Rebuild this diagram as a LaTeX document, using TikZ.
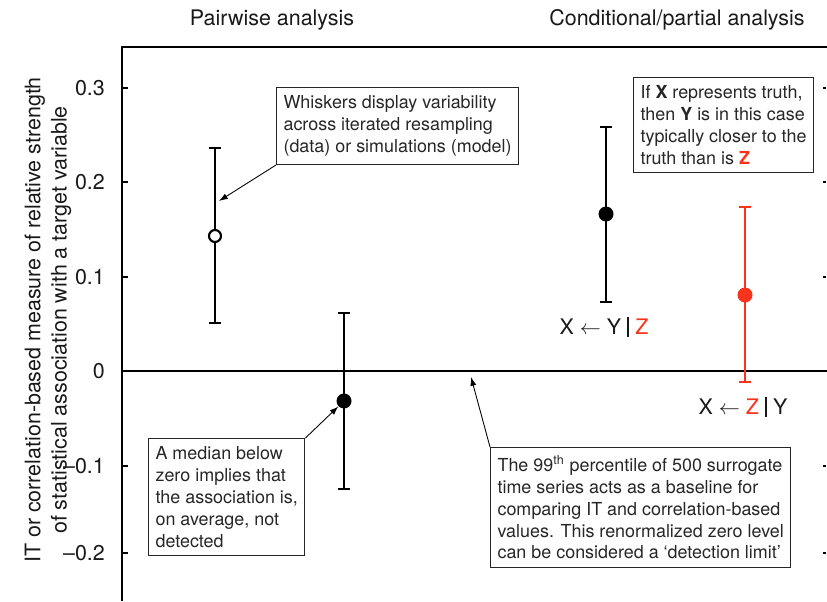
\documentclass[tikz,border=0pt]{standalone}
\usepackage{fontspec}
\setmainfont{TeX Gyre Heros}
\usetikzlibrary{arrows.meta}
\definecolor{zred}{RGB}{250,52,28}
\newcommand{\bigbar}{\rule[-1.5pt]{1.3pt}{11pt}}
\begin{document}
\begin{tikzpicture}[x=0.02cm,y=-0.02cm,
  axis/.style={line width=1.2pt},
  bar/.style={line width=1.4pt},
  note/.style={draw=black!85,line width=0.6pt,align=left,inner xsep=4pt,inner ysep=4.6pt,
    font=\fontsize{10.2}{12.5}\selectfont,text=black!85},
  pointer/.style={-{Latex[length=5pt,width=3.5pt]},line width=0.5pt},
  dot/.style={circle,fill,inner sep=0pt,minimum size=0.3cm},
  opendot/.style={circle,draw,fill=white,line width=1.2pt,inner sep=0pt,minimum size=0.24cm},
  big/.style={font=\fontsize{12.2}{15}\selectfont,text=black!90}]
  \useasboundingbox (0,0) rectangle (827,601);

  % Titoli
  \node[big] (pairT) at (272,20) {Pairwise analysis};
  \node[big] (condT) at (677,20) {Conditional/partial analysis};

  % Assi
  \draw[axis] (122,601) -- (122,47) -- (827,47);
  \draw[axis] (122,371) -- (827,371);
  \foreach \y/\t in {88/0.3,182/0.2,277/0.1,371/0,466/\textendash0.1,553/\textendash0.2} {
    \draw[axis] (122,\y) -- (128,\y);
    \node[big,anchor=east] (t\y) at (111,\y) {\t};
  }
  \foreach \y in {88,182,277,466,553}
    \draw[line width=0.8pt] (823,\y) -- (826,\y);
  \node[big,rotate=90,align=center] (ylab) at (48,320)
    {IT or correlation-based measure of relative strength\\of statistical association with a target variable};

  % Barre
  \foreach \x/\hi/\lo in {215/148/323, 344/313/489, 606/127/302} {
    \draw[bar] (\x,\hi) -- (\x,\lo);
    \draw[bar] (\x-6,\hi) -- (\x+6,\hi);
    \draw[bar] (\x-6,\lo) -- (\x+6,\lo);
  }
  \draw[bar,zred] (745,207) -- (745,382);
  \draw[bar,zred] (739,207) -- (751,207);
  \draw[bar,zred] (739,382) -- (751,382);

  % Mediane
  \node[opendot] (pa) at (215,236) {};
  \node[dot] (pb) at (344,401) {};
  \node[dot] (pc) at (606,214) {};
  \node[dot,zred] (pd) at (745,295) {};

  \node[big] (lyz) at (604,327) {X $\leftarrow$ Y \bigbar\ \textcolor{zred}{Z}};
  \node[big] (lzy) at (743,407) {X $\leftarrow$ \textcolor{zred}{Z} \bigbar\ Y};

  % Note
  \node[note,anchor=north west] (whisk) at (276,87)
    {Whiskers display variability\\across iterated resampling\\(data) or simulations (model)};
  \node[note,anchor=north west] (truth) at (633,77)
    {If \textbf{X} represents truth,\\then \textbf{Y} is in this case\\typically closer to the\\truth than is \textbf{\textcolor{zred}{Z}}};
  \node[note,anchor=north west] (median) at (148,438)
    {A median below\\zero implies that\\the association is,\\on average, not\\detected};
  \node[note,anchor=north west] (base) at (490,447)
    {The 99\textsuperscript{th} percentile of 500 surrogate\\time series acts as a baseline for\\comparing IT and correlation-based\\values. This renormalized zero level\\can be considered a `detection limit'};

  % Frecce
  \coordinate (whisktip) at (219,201);
  \coordinate (zerotip) at (471,377);
  \draw[pointer] (whisk.south west) -- (whisktip);
  \draw[pointer] (median.north east) -- (pb);
  \draw[pointer] (base.north west) -- (zerotip);
\end{tikzpicture}
\end{document}
